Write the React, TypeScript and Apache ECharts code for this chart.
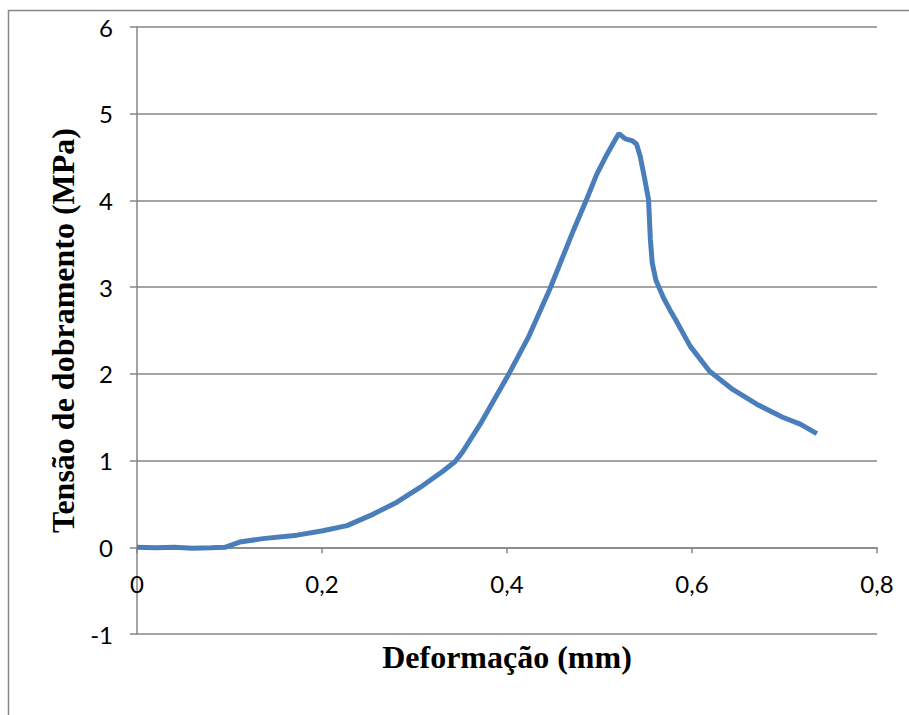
import React, { useEffect, useRef } from "react";
import * as echarts from "echarts";

const deformation: number[] = [
  0, 0.02, 0.04, 0.06, 0.08, 0.095, 0.111, 0.136, 0.173, 0.201, 0.227, 0.255, 0.281, 0.306,
  0.331, 0.344, 0.352, 0.371, 0.4, 0.423, 0.446, 0.472, 0.486, 0.497, 0.508, 0.517, 0.521,
  0.528, 0.535, 0.54, 0.544, 0.549, 0.553, 0.555, 0.557, 0.561, 0.565, 0.569, 0.576, 0.582,
  0.598, 0.619, 0.644, 0.67, 0.698, 0.717, 0.735,
];
const stress: number[] = [
  0, -0.005, 0, -0.01, -0.005, 0, 0.06, 0.1, 0.14, 0.19, 0.25, 0.38, 0.52, 0.69,
  0.88, 0.99, 1.1, 1.42, 1.96, 2.42, 2.97, 3.66, 4.01, 4.3, 4.53, 4.7, 4.77,
  4.71, 4.69, 4.65, 4.51, 4.24, 4.01, 3.55, 3.28, 3.08, 2.98, 2.88, 2.74, 2.63,
  2.32, 2.03, 1.82, 1.65, 1.5, 1.42, 1.31,
];
const xTicks = { min: 0, max: 0.8, interval: 0.2 };
const yTicks = { min: -1, max: 6, interval: 1 };
const xTitle = "Deformação (mm)";
const yTitle = "Tensão de dobramento (MPa)";

const GRAY = "#868686";

export default function App() {
  const ref = useRef<HTMLDivElement>(null);
  useEffect(() => {
    if (!ref.current) return;
    const chart = echarts.init(ref.current, undefined, { renderer: "svg" });
    chart.setOption({
      animation: false,
      backgroundColor: "#ffffff",
      graphic: [
        {
          type: "rect",
          shape: { x: 8.5, y: 10.5, width: 1000, height: 1000 },
          style: { fill: "none", stroke: GRAY, lineWidth: 1.5 },
          silent: true,
        },
      ],
      grid: { left: 137, right: 32, top: 27, bottom: 81, outerBoundsMode: "none", containLabel: false },
      xAxis: {
        type: "value",
        min: xTicks.min,
        max: xTicks.max,
        interval: xTicks.interval,
        name: xTitle,
        nameLocation: "middle",
        nameGap: 7,
        nameTextStyle: {
          fontFamily: "Liberation Serif",
          fontWeight: "bold",
          fontSize: 32,
          color: "#000",
          verticalAlign: "top",
        },
        axisLine: { onZero: true, lineStyle: { color: GRAY, width: 1.5 } },
        axisTick: { show: true, length: 6, lineStyle: { color: GRAY, width: 1.5 } },
        splitLine: { show: false },
        axisLabel: {
          margin: -63,
          fontFamily: "Lato",
          fontSize: 24,
          color: "#000",
          formatter: (v: number) => (v === 0 ? "0" : String(Number(v.toFixed(1))).replace(".", ",")),
        },
      },
      yAxis: {
        type: "value",
        min: yTicks.min,
        max: yTicks.max,
        interval: yTicks.interval,
        name: yTitle,
        nameLocation: "middle",
        nameGap: 53,
        nameTextStyle: {
          fontFamily: "Liberation Serif",
          fontWeight: "bold",
          fontSize: 32,
          color: "#000",
        },
        axisLine: { show: true, onZero: false, lineStyle: { color: GRAY, width: 1.5 } },
        axisTick: { show: true, length: 7, lineStyle: { color: GRAY, width: 1.5 } },
        splitLine: { show: true, lineStyle: { color: GRAY, width: 1.5 } },
        axisLabel: {
          margin: 24,
          fontFamily: "Lato",
          fontSize: 24,
          color: "#000",
          formatter: (v: number) => String(v),
        },
      },
      series: [
        {
          type: "line",
          data: deformation.map((x, i) => [x, stress[i]]),
          showSymbol: false,
          smooth: false,
          lineStyle: { color: "#4a7ebb", width: 5 },
          z: 3,
        },
      ],
    });
    return () => chart.dispose();
  }, []);
  return (
    <div
      ref={ref}
      style={{ position: "fixed", left: 0, top: 0, width: 909, height: 715 }}
    />
  );
}
